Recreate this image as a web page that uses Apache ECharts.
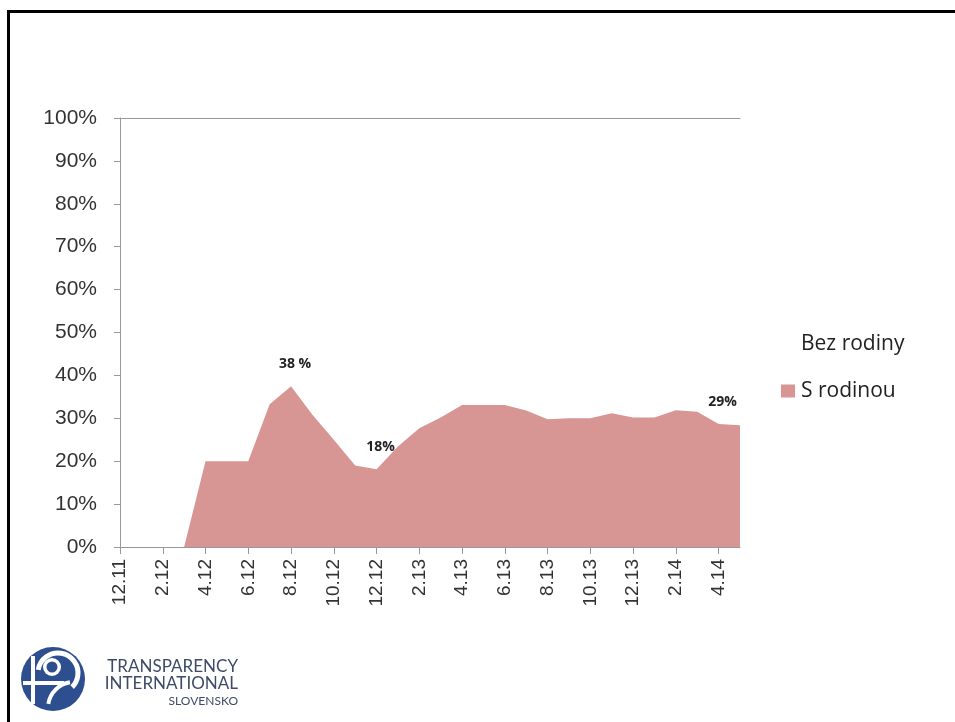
<!DOCTYPE html>
<html>
<head>
<meta charset="utf-8">
<script src="https://cdn.jsdelivr.net/npm/echarts@6/dist/echarts.min.js"></script>
<style>
  html, body { margin: 0; padding: 0; background: #fff; }
  #frame { position: absolute; left: 7px; top: 10px; width: 960px; height: 720px;
           border-left: 3px solid #000; border-top: 3px solid #000; }
  #chart { position: absolute; left: 0; top: 0; width: 955px; height: 722px; }
</style>
</head>
<body>
<div id="frame"></div>
<div id="chart"></div>
<script>
// months 12.11 .. 5.14
var months = ['12.11','1.12','2.12','3.12','4.12','5.12','6.12','7.12','8.12','9.12','10.12','11.12',
  '12.12','1.13','2.13','3.13','4.13','5.13','6.13','7.13','8.13','9.13','10.13','11.13',
  '12.13','1.14','2.14','3.14','4.14','5.14'];
var sRodinou = [0, 0, 0, 0, 20, 20, 20, 33.3, 37.5, 30.8, 25, 19,
  18.1, 23.4, 27.7, 30.2, 33.1, 33.1, 33.1, 31.8, 29.8, 30, 30, 31.2,
  30.2, 30.2, 31.9, 31.5, 28.7, 28.4];
var bezRodiny = [];
var notes = [
  { month: '8.12', value: 37.5, text: '38 %' },
  { month: '12.12', value: 18.1, text: '18%' },
  { month: '4.14', value: 28.7, text: '29%' }
];

var chart = echarts.init(document.getElementById('chart'));

var white = '#fff';
var blue = '#2e4f8f';

var option = {
  backgroundColor: 'transparent',
  animation: false,
  grid: { left: 120, right: 215, top: 118, bottom: 175 },
  legend: {
    orient: 'vertical',
    left: 781,
    top: 333,
    padding: 0,
    itemWidth: 14,
    itemHeight: 13,
    itemGap: 25,
    icon: 'rect',
    textStyle: { fontFamily: 'Open Sans', fontSize: 21, color: '#222', lineHeight: 22, padding: [0, 0, 0, 1] },
    data: ['Bez rodiny', 'S rodinou']
  },
  xAxis: [{
    type: 'category',
    data: months,
    boundaryGap: false,
    axisLine: { lineStyle: { color: '#999', width: 1 } },
    axisTick: { show: true, interval: 1, length: 7, lineStyle: { color: '#999' } },
    axisLabel: {
      interval: 1, rotate: 90, margin: 12,
      fontFamily: 'Liberation Sans', fontSize: 19, color: '#333'
    },
    splitLine: { show: false }
  }, {
    type: 'category',
    data: months,
    boundaryGap: false,
    position: 'top',
    axisLine: { lineStyle: { color: '#999', width: 1 } },
    axisTick: { show: false },
    axisLabel: { show: false }
  }],
  yAxis: {
    type: 'value',
    min: 0, max: 100, interval: 10,
    axisLine: { show: true, lineStyle: { color: '#999' } },
    axisTick: { show: true, length: 6, lineStyle: { color: '#999' } },
    axisLabel: {
      formatter: '{value}%', margin: 23,
      fontFamily: 'Liberation Sans', fontSize: 21, color: '#333'
    },
    splitLine: { show: false }
  },
  series: [{
    name: 'Bez rodiny',
    type: 'line',
    data: bezRodiny,
    itemStyle: { color: white }
  }, {
    name: 'S rodinou',
    type: 'line',
    data: sRodinou,
    symbol: 'none',
    smooth: false,
    itemStyle: { color: '#d79594' },
    lineStyle: { width: 0 },
    areaStyle: { color: '#d79594', opacity: 1 },
    markPoint: {
      symbol: 'circle',
      symbolSize: 0,
      label: {
        show: true, position: 'top', distance: 15, offset: [4, 0],
        fontFamily: 'Open Sans', fontWeight: 'bold', fontSize: 14, color: '#222'
      },
      data: notes.map(function (n) {
        return { coord: [n.month, n.value], label: { formatter: n.text } };
      })
    }
  }],
  graphic: [
    // logo
    { type: 'circle', shape: { cx: 53, cy: 679, r: 32 }, style: { fill: blue } },
    { type: 'arc', shape: { cx: 58, cy: 673, r: 20, startAngle: Math.PI * 1.05, endAngle: Math.PI * 2.25 },
      style: { stroke: white, lineWidth: 5, fill: null } },
    { type: 'circle', shape: { cx: 52, cy: 667, r: 9 }, style: { fill: white } },
    { type: 'circle', shape: { cx: 52, cy: 667, r: 5.5 }, style: { fill: blue } },
    { type: 'line', shape: { x1: 33, y1: 656, x2: 33, y2: 704 }, style: { stroke: white, lineWidth: 4 } },
    { type: 'line', shape: { x1: 23, y1: 683, x2: 64, y2: 683 }, style: { stroke: white, lineWidth: 4 } },
    { type: 'arc', shape: { cx: 74, cy: 708, r: 26, startAngle: Math.PI * 1.05, endAngle: Math.PI * 1.45 },
      style: { stroke: white, lineWidth: 4, fill: null } },
    { type: 'text', right: 955 - 238, top: 658,
      style: { text: 'TRANSPARENCY', fontFamily: 'Lato', fontSize: 17, fill: '#3d4b68' } },
    { type: 'text', right: 955 - 238, top: 675,
      style: { text: 'INTERNATIONAL', fontFamily: 'Lato', fontSize: 17, fill: '#3d4b68' } },
    { type: 'text', right: 955 - 238, top: 695,
      style: { text: 'SLOVENSKO', fontFamily: 'Lato', fontSize: 12, fill: '#3d4b68' } }
  ]
};

chart.setOption(option);
</script>
</body>
</html>
